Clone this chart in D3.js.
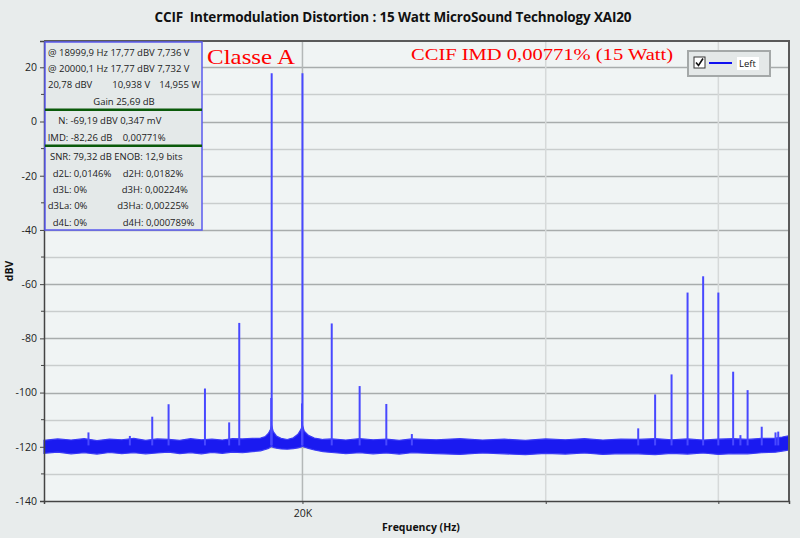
<!DOCTYPE html>
<html>
<head>
<meta charset="utf-8">
<script src="https://cdn.jsdelivr.net/npm/d3@7"></script>
<style>
    body { margin: 0; background: #e8ecec; }
    svg { display: block; font-family: 'Open Sans', sans-serif; }
</style>
</head>
<body>
<div id="chart"></div>
<script>
// spectral lines (Hz, dBV)
const peakFreqs = [14000, 15000, 15570, 16000, 17000, 17700, 18000, 18985, 19000, 19985, 20000,
    21000, 22000, 23000, 24000, 35000, 36000, 37000, 38000, 39000, 40000, 41000, 41500, 42000,
    43000, 44000, 44200];
const peakLevels = [-114.7, -116, -108.9, -104.3, -98.5, -111, -74.3, -102, 17.77, -104, 17.77,
    -74.5, -97.6, -104.2, -115.3, -113.2, -100.7, -93.3, -63.1, -57.1, -63.1, -92.3, -115.7, -99.1,
    -112.6, -114.7, -114.4];

// noise floor envelope (Hz, upper dBV, lower dBV)
const floorFreqs = [13000, 13300, 13600, 13900, 14200, 14500, 14800, 15100, 15400, 15700, 16000,
    16300, 16600, 16900, 17200, 17500, 17800, 18100, 18400, 18650, 18800, 18900, 18960, 19000,
    19050, 19150, 19300, 19500, 19700, 19850, 19950, 20000, 20060, 20200, 20400, 20700, 21000,
    21500, 22000, 22500, 23000, 23500, 24000, 25000, 26000, 27000, 28000, 29000, 30000, 31000,
    32000, 33000, 34000, 35000, 36000, 37000, 38000, 39000, 40000, 41000, 42000, 43000, 44000,
    44500, 45000];
const floorTop = [-117.6, -117.1, -117.5, -117.0, -117.7, -117.2, -117.4, -116.9, -117.6, -117.1,
    -117.3, -117.6, -117.0, -117.4, -117.2, -117.5, -117.0, -117.1, -116.9, -116.8, -116.2, -115.0,
    -113.6, -112.2, -114.4, -116.0, -116.9, -117.3, -116.7, -115.4, -113.6, -112.0, -114.2, -115.8,
    -116.8, -117.3, -117.1, -117.5, -117.0, -117.4, -117.2, -117.6, -117.1, -117.4, -117.0, -117.5,
    -117.2, -117.6, -117.1, -117.4, -117.0, -117.5, -117.2, -117.3, -117.0, -117.4, -117.1, -117.5,
    -117.2, -117.0, -117.3, -116.9, -116.8, -116.4, -115.9];
const floorBottom = [-122.4, -122.0, -122.6, -122.2, -122.7, -122.1, -122.5, -122.2, -122.6, -122.3,
    -122.0, -122.5, -122.2, -122.6, -122.1, -122.4, -122.0, -122.2, -121.8, -121.5, -121.0, -120.6,
    -120.1, -119.8, -120.2, -120.5, -120.8, -120.9, -120.7, -120.4, -120.1, -119.8, -120.1, -120.6,
    -121.2, -121.8, -122.1, -122.5, -122.2, -122.6, -122.3, -122.7, -122.2, -122.5, -122.8, -122.3,
    -122.6, -122.9, -122.4, -122.7, -122.3, -122.8, -122.5, -122.6, -122.9, -122.4, -122.7, -122.3,
    -122.8, -122.5, -122.6, -122.2, -122.0, -121.6, -121.2];

const yTicks = [20, 0, -20, -40, -60, -80, -100, -120, -140];
const yGrid = [20, 10, 0, -10, -20, -30, -40, -50, -60, -70, -80, -90, -100, -110, -120, -130];
const xTicks = [20000, 30000, 40000];
const xTickLabels = ['20K', '', ''];

// measurement box rows
const infoRows = [
    ['@ 18999,9 Hz 17,77 dBV 7,736 V'],
    ['@ 20000,1 Hz 17,77 dBV 7,732 V'],
    ['20,78 dBV', '10,938 V', '14,955 W'],
    ['Gain 25,69 dB'],
    ['N: -69,19 dBV 0,347 mV'],
    ['IMD: -82,26 dB', '0,00771%'],
    ['SNR: 79,32 dB ENOB: 12,9 bits'],
    ['d2L: 0,0146%', 'd2H: 0,0182%'],
    ['d3L: 0%', 'd3H: 0,00224%'],
    ['d3La: 0%', 'd3Ha: 0,00225%'],
    ['d4L: 0%', 'd4H: 0,000789%']
];

const WIDTH = 800;
const HEIGHT = 538;
const plot = { left: 44, right: 789, top: 41, bottom: 501 };

const svg = d3.select('#chart').append('svg')
    .attr('width', WIDTH)
    .attr('height', HEIGHT);

svg.append('rect')
    .attr('width', WIDTH).attr('height', HEIGHT)
    .attr('fill', '#e8ecec');

const x = d3.scaleLog().domain([13000, 45000]).range([plot.left, plot.right]);
const y = d3.scaleLinear().domain([-140, 29.7]).range([plot.bottom, plot.top]);

// plot background
svg.append('rect')
    .attr('x', plot.left).attr('y', plot.top)
    .attr('width', plot.right - plot.left).attr('height', plot.bottom - plot.top)
    .attr('fill', '#f0f4f4');

// grid
svg.append('g')
    .selectAll('line')
    .data(yGrid)
    .join('line')
        .attr('x1', plot.left).attr('x2', plot.right)
        .attr('y1', d => Math.round(y(d)) + 0.5).attr('y2', d => Math.round(y(d)) + 0.5)
        .attr('stroke', d => d % 20 === 0 ? '#a8acac' : '#c9cdcd')
        .attr('stroke-width', 1.5);

svg.append('g')
    .selectAll('line')
    .data(xTicks)
    .join('line')
        .attr('x1', d => x(d)).attr('x2', d => x(d))
        .attr('y1', plot.top).attr('y2', plot.bottom)
        .attr('stroke', (d, i) => i === 0 ? '#b4b8b8' : '#d6d9d9')
        .attr('stroke-width', 1.5);

// noise floor band
const floorData = floorFreqs.map((f, i) => ({ f, top: floorTop[i], bottom: floorBottom[i] }));
const band = d3.area()
    .x(d => x(d.f))
    .y0(d => y(d.bottom))
    .y1(d => y(d.top));

svg.append('path')
    .datum(floorData)
    .attr('d', band)
    .attr('fill', '#1a1af0')
    .attr('stroke', '#3a3af6')
    .attr('stroke-width', 1.2);

// spectral lines
const spikeLine = d3.line().x(d => d[0]).y(d => d[1]);
svg.append('g')
    .selectAll('path')
    .data(peakFreqs.map((f, i) => ({ f, v: peakLevels[i] })))
    .join('path')
        .attr('d', d => spikeLine([[x(d.f), y(-119.5)], [x(d.f), y(d.v)]]))
        .attr('stroke', '#4848ff')
        .attr('stroke-width', 2);

// axes
const yAxis = d3.axisLeft(y).tickValues(yTicks).tickSize(4).tickPadding(3).tickFormat(d3.format('d'));
const yAxisG = svg.append('g')
    .attr('transform', `translate(${plot.left},0)`)
    .call(yAxis);
yAxisG.select('.domain').attr('stroke', '#444').attr('stroke-width', 1.5);
yAxisG.selectAll('.tick line').attr('stroke', '#444');
yAxisG.selectAll('.tick text')
    .attr('font-family', "'Open Sans', sans-serif")
    .attr('font-size', 10.5)
    .attr('fill', '#222')
    .text(d => d < 0 ? '-' + Math.abs(d) : d);

svg.append('g')
    .selectAll('line')
    .data(yGrid.filter(d => d % 20 !== 0))
    .join('line')
        .attr('x1', plot.left - 3).attr('x2', plot.left)
        .attr('y1', d => y(d)).attr('y2', d => y(d))
        .attr('stroke', '#444');

const xAxis = d3.axisBottom(x).tickValues(xTicks).tickSize(3).tickPadding(6)
    .tickFormat((d, i) => xTickLabels[i]);
const xAxisG = svg.append('g')
    .attr('transform', `translate(0,${plot.bottom})`)
    .call(xAxis);
xAxisG.select('.domain').attr('stroke', '#444').attr('stroke-width', 1.5);
xAxisG.selectAll('.tick line').attr('stroke', '#444');
xAxisG.selectAll('.tick text')
    .attr('font-family', "'Open Sans', sans-serif")
    .attr('font-size', 10.5)
    .attr('fill', '#222');

// frame top and right
svg.append('path')
    .attr('d', `M${plot.left},${plot.top}H${plot.right}V${plot.bottom}`)
    .attr('fill', 'none')
    .attr('stroke', '#5a5a5a')
    .attr('stroke-width', 2);

// titles
svg.append('text')
    .attr('x', 393).attr('y', 22)
    .attr('text-anchor', 'middle')
    .attr('font-size', 13.5)
    .attr('font-weight', 'bold')
    .attr('fill', '#111')
    .style('white-space', 'pre')
    .attr('textLength', 477)
    .text('CCIF  Intermodulation Distortion : 15 Watt MicroSound Technology XAI20');

svg.append('text')
    .attr('transform', 'translate(13,271) rotate(-90)')
    .attr('text-anchor', 'middle')
    .attr('font-size', 10.5)
    .attr('font-weight', 'bold')
    .attr('fill', '#111')
    .text('dBV');

svg.append('text')
    .attr('x', 421).attr('y', 531)
    .attr('text-anchor', 'middle')
    .attr('font-size', 10.5)
    .attr('font-weight', 'bold')
    .attr('fill', '#111')
    .text('Frequency (Hz)');

// red annotations
svg.append('text')
    .attr('x', 207).attr('y', 64)
    .attr('font-family', "'Liberation Serif', serif")
    .attr('font-size', 21)
    .attr('fill', '#ff0000')
    .attr('textLength', 88)
    .attr('lengthAdjust', 'spacingAndGlyphs')
    .text('Classe A');

svg.append('text')
    .attr('x', 411).attr('y', 59.5)
    .attr('font-family', "'Liberation Serif', serif")
    .attr('font-size', 17)
    .attr('fill', '#ff0000')
    .attr('textLength', 262)
    .attr('lengthAdjust', 'spacingAndGlyphs')
    .text('CCIF IMD 0,00771% (15 Watt)');

// measurement box
const info = svg.append('g');
info.append('rect')
    .attr('x', 45).attr('y', 42)
    .attr('width', 157).attr('height', 188)
    .attr('fill', '#e4e9e9')
    .attr('stroke', '#5a5aee')
    .attr('stroke-width', 1.5);

[109.7, 145.7].forEach(yy => {
    info.append('line')
        .attr('x1', 45).attr('x2', 202)
        .attr('y1', yy).attr('y2', yy)
        .attr('stroke', '#0a5a0a')
        .attr('stroke-width', 2.5);
});

const rowBaselines = [55.5, 71.5, 88, 104.5, 124, 140.5, 160, 176.5, 193, 209, 225.5];
const cellX = [
    [48], [48], [48, 112.3, 159.3], [124], [58.3], [47.7, 122.7], [50],
    [52.7, 122.7], [52.7, 121.7], [47.7, 117.3], [52.7, 122.7]
];
infoRows.forEach((row, r) => {
    row.forEach((cell, c) => {
        info.append('text')
            .attr('x', cellX[r][c])
            .attr('y', rowBaselines[r])
            .attr('text-anchor', r === 3 ? 'middle' : 'start')
            .attr('font-size', 9.5)
            .attr('fill', '#222')
            .text(cell);
    });
});

// legend
const legend = svg.append('g');
legend.append('rect')
    .attr('x', 688).attr('y', 51).attr('width', 82).attr('height', 25)
    .attr('fill', '#e4e8e8').attr('stroke', '#a4a8a8').attr('stroke-width', 2);
legend.append('rect')
    .attr('x', 694).attr('y', 57).attr('width', 11).attr('height', 11)
    .attr('fill', '#fff').attr('stroke', '#333');
legend.append('path')
    .attr('d', 'M696,62.5 L698.5,65.5 L703,58.5')
    .attr('fill', 'none').attr('stroke', '#111').attr('stroke-width', 1.6);
legend.append('line')
    .attr('x1', 709).attr('x2', 732).attr('y1', 63).attr('y2', 63)
    .attr('stroke', '#1010f0').attr('stroke-width', 2);
legend.append('rect')
    .attr('x', 737).attr('y', 57).attr('width', 22).attr('height', 13)
    .attr('fill', '#fff');
legend.append('text')
    .attr('x', 739).attr('y', 67)
    .attr('font-size', 9.5)
    .attr('fill', '#111')
    .text('Left');
</script>
</body>
</html>
